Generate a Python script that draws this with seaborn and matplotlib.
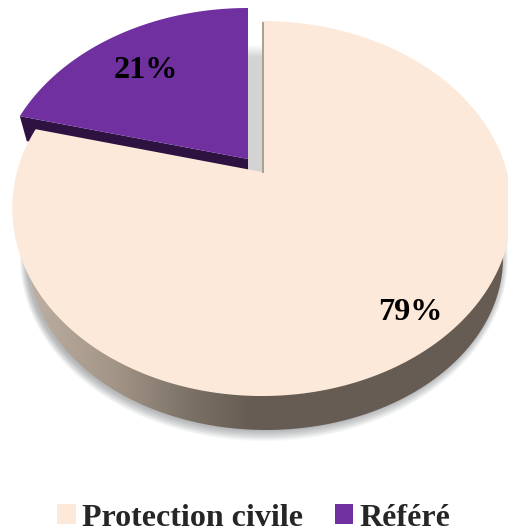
import numpy as np
import matplotlib
matplotlib.use("Agg")
import matplotlib.pyplot as plt
from matplotlib.patches import Polygon, Rectangle
from matplotlib.colors import LinearSegmentedColormap
import seaborn as sns

categories = ["Protection civile", "Référé"]
values = [79, 21]
palette = sns.color_palette(["#FDE9D9", "#7030A0"])

sns.set_theme(style="white")
plt.rcParams["font.family"] = ["Liberation Serif", "DejaVu Serif"]

fig = plt.figure(figsize=(5.08, 5.32), dpi=100)
ax = fig.add_axes([0, 0, 1, 1])
ax.set_xlim(0, 508)
ax.set_ylim(532, 0)
ax.axis("off")


def project(theta, apex, width):
    """Perspective view of a unit disc; theta is clockwise from 12 o'clock."""
    x, y = np.sin(theta), np.cos(theta)
    w = 1 + 0.1947 * y
    return np.column_stack([apex[0] + width * x / w, apex[1] - 180.4 * y / w])


def ellipse(cx, cy, rx, ry, a0=0, a1=2 * np.pi, n=300):
    t = np.linspace(a0, a1, n)
    return np.column_stack([cx + rx * np.cos(t), cy + ry * np.sin(t)])


fractions = np.array(values) / sum(values)
main_apex, small_apex = (262, 172), (248, 159)
split = 2 * np.pi * fractions[0]
main_arc = project(np.linspace(0, split, 500), main_apex, 245)
main_poly = np.vstack([[main_apex], main_arc])
small_arc = project(np.linspace(split, 2 * np.pi, 200), small_apex, 247)
small_poly = np.vstack([[small_apex], small_arc])

# soft drop shadow below the rim
for i in range(10):
    s = 10 - i
    ax.add_patch(Polygon(ellipse(264, 258, 237 + s * 0.7, 172 + s * 1.1, -0.1, np.pi + 0.2),
                         closed=True, fc="#30343A", ec="none", alpha=0.04, zorder=1))

# rim with a horizontal gradient
rim = Polygon(ellipse(266, 258, 237, 172, 0, np.pi), closed=True, fc="none", ec="none", zorder=2)
ax.add_patch(rim)
cmap = LinearSegmentedColormap.from_list(
    "rim", [(0, "#C2B5A8"), (0.2, "#A39689"), (0.36, "#7B7064"), (0.48, "#665C53"),
            (1, "#665C53")])
im = ax.imshow(np.linspace(0, 1, 256)[None, :], cmap=cmap, extent=(12, 512, 432, 220),
               aspect="auto", zorder=2)
im.set_clip_path(rim)
ax.set_xlim(0, 508)
ax.set_ylim(532, 0)

# shadow wall in the gap between the slices
grey = np.linspace(0, 1, 12)[:, None]
ax.imshow(grey, cmap=LinearSegmentedColormap.from_list("g", ["#FFFFFF", "#D3D3D3"]),
          extent=(248, 263, 58, 44), aspect="auto", zorder=2)
ax.set_xlim(0, 508)
ax.set_ylim(532, 0)
ax.add_patch(Rectangle((248, 58), 15, 115, fc="#D3D3D3", ec="none", zorder=2))
ax.add_patch(Rectangle((262, 22), 1.6, 151, fc="#A8A299", ec="none", zorder=5))

# dark side of the exploded slice
tip, apex = small_arc[0], np.array(small_apex, float)
ax.add_patch(Polygon([tip, apex, apex + (0, 12), tip + (7, 25)], closed=True,
                     fc="#2E1342", ec="none", zorder=3))

ax.add_patch(Polygon(main_poly, closed=True, fc=palette[0], ec="none", zorder=4))
ax.add_patch(Polygon(small_poly, closed=True, fc=palette[1], ec="none", zorder=4))

label_font = dict(fontsize=23.2, fontweight="bold", color="black", ha="center", va="center", zorder=6)
ax.text(410, 312, f"{values[0]}%", **label_font)
ax.text(146, 70, f"{values[1]}%", **label_font)

handles = [Rectangle((0, 0), 1, 1, fc=c, ec="none") for c in palette]
ax.legend(handles, categories, loc="center", bbox_to_anchor=(254, 518), bbox_transform=ax.transData,
          ncol=2, frameon=False, prop=dict(size=23, weight="bold"), handlelength=0.57, handleheight=0.57,
          handletextpad=0.2, columnspacing=1.0, borderpad=0, borderaxespad=0)

fig.savefig("out.png", dpi=100)
